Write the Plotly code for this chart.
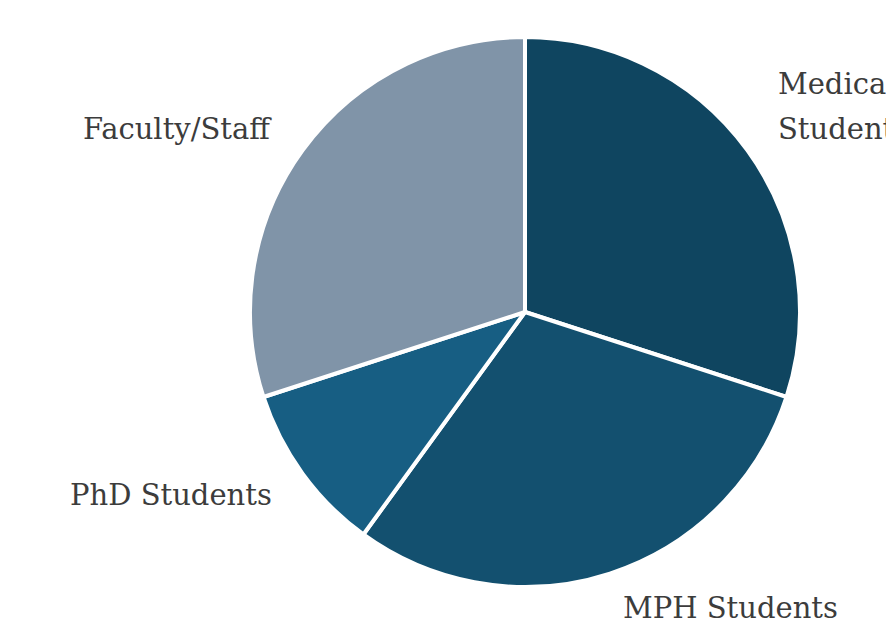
import math
import plotly.graph_objects as go

# Share of respondents by group
groups = ["Medical<br>Students", "MPH Students", "PhD Students", "Faculty/Staff"]
shares = [30, 30, 10, 30]
colors = ["#0f4560", "#13506f", "#175e83", "#8094a8"]

W, H = 886, 630
cx, cy, r = 525, 312, 275
label_dist = 1.13      # label anchor distance, in pie radii
line_gap = 45          # pixel spacing between lines of a label
font = dict(family="DejaVu Serif", size=29, color="#3c3c3c")

fig = go.Figure(
    go.Pie(
        labels=[g.replace("<br>", " ") for g in groups],
        values=shares,
        sort=False,
        direction="clockwise",
        rotation=0,
        marker=dict(colors=colors, line=dict(color="white", width=4)),
        textinfo="none",
        showlegend=False,
        hoverinfo="label+percent",
        domain=dict(x=[(cx - r) / W, (cx + r) / W], y=[(H - cy - r) / H, (H - cy + r) / H]),
    )
)

# Labels outside the pie, at the middle angle of each slice
total = sum(shares)
start = 0.0
annotations = []
for g, v in zip(groups, shares):
    mid = start + v / 2
    start += v
    theta = math.radians(90 - 360 * mid / total)
    px = cx + label_dist * r * math.cos(theta)
    py = cy - label_dist * r * math.sin(theta)
    lines = g.split("<br>")
    n = len(lines)
    for i, line in enumerate(lines):
        ly = py - (n - 1 - i) * line_gap
        annotations.append(
            dict(
                x=px / W,
                y=1 - ly / H,
                xref="paper",
                yref="paper",
                text=line,
                showarrow=False,
                xanchor="left" if math.cos(theta) > 0 else "right",
                yanchor="middle",
                font=font,
            )
        )

fig.update_layout(
    width=W,
    height=H,
    margin=dict(l=0, r=0, t=0, b=0),
    paper_bgcolor="white",
    plot_bgcolor="white",
    annotations=annotations,
)

fig.write_html("out.html")
